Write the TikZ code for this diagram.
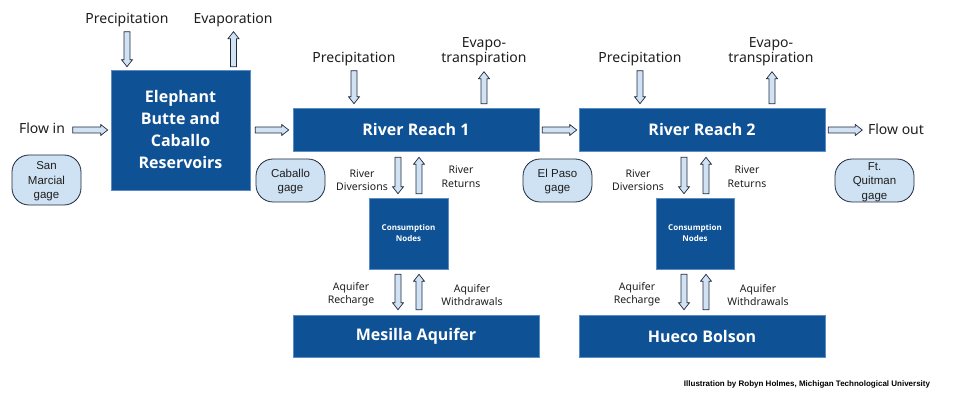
\documentclass[tikz,border=0pt]{standalone}
\usepackage{fontspec}
\setmainfont{Noto Sans}
\newfontfamily\boldf{Open Sans}
\newfontfamily\arialf{Liberation Sans}
\usetikzlibrary{calc}
\definecolor{boxblue}{RGB}{14,81,148}
\definecolor{boxedge}{RGB}{91,140,196}
\definecolor{arrfill}{RGB}{208,226,243}
\definecolor{arredge}{RGB}{30,40,60}
\definecolor{gagefill}{RGB}{207,226,243}
\definecolor{txt}{RGB}{30,30,30}
\tikzset{
 bigbox/.style={fill=boxblue, draw=boxedge, line width=0.6pt, text=white, font=\boldf\bfseries\fontsize{16}{22}\selectfont, align=center, inner sep=0pt},
 cons/.style={bigbox, font=\boldf\bfseries\fontsize{8}{11}\selectfont, minimum width=79pt, minimum height=71pt},
 gage/.style={fill=gagefill, draw=arredge, line width=0.8pt, rounded corners=17pt},
 gagetext/.style={font=\arialf\fontsize{11.5}{14.5}\selectfont, align=center, text=txt, inner sep=0pt},
 lbl/.style={font=\fontsize{14}{15}\selectfont, text=txt, inner sep=0pt, align=center},
 smlbl/.style={font=\fontsize{10.5}{13.5}\selectfont, text=txt, align=center, inner sep=0pt},
 barrowstyle/.style={fill=arrfill, draw=arredge, line width=0.7pt, line join=miter},
}
\newcommand\barrow[2]{%
 \coordinate (ba) at (#1); \coordinate (bb) at (#2);
 \coordinate (bn) at ($(bb)!7pt!(ba)$);
 \draw[barrowstyle] ($(ba)!3pt!90:(bb)$) -- ($(bn)!3pt!-90:(ba)$) -- ($(bn)!5.5pt!-90:(ba)$) -- (bb)
   -- ($(bn)!5.5pt!90:(ba)$) -- ($(bn)!3pt!90:(ba)$) -- ($(ba)!3pt!-90:(bb)$) -- cycle;}
\begin{document}
\begin{tikzpicture}[x=1pt,y=1pt]
\useasboundingbox (0,0) rectangle (956,410);
% main boxes
\node[bigbox, minimum width=139pt, minimum height=120pt] (EB) at (180.5,280) {Elephant\\Butte and\\Caballo\\Reservoirs};
\node[bigbox, minimum width=246pt, minimum height=43pt] (RR1) at (416,280) {River Reach 1};
\node[bigbox, minimum width=246pt, minimum height=43pt] (RR2) at (702,280) {River Reach 2};
\node[cons] (C1) at (408.5,176.5) {Consumption\\Nodes};
\node[cons, minimum width=78pt] (C2) at (695,176.5) {Consumption\\Nodes};
\node[bigbox, minimum width=246pt, minimum height=42pt] (MA) at (416,74) {Mesilla Aquifer};
\node[bigbox, minimum width=246pt, minimum height=42pt] (HB) at (702,74) {Hueco Bolson};
% gages
\node[gage, minimum width=69pt, minimum height=50pt] (SM) at (46.5,230) {};
\node[gagetext] (SMt) at ($(SM)+(0,-1.5)$) {San\\Marcial\\gage};
\node[gage, minimum width=69pt, minimum height=43pt] (CG) at (290.5,229.5) {};
\node[gagetext] (CGt) at ($(CG)+(0,-1)$) {Caballo\\gage};
\node[gage, minimum width=69pt, minimum height=43pt] (EP) at (557.5,229.5) {};
\node[gagetext] (EPt) at ($(EP)+(0,-1)$) {El Paso\\gage};
\node[gage, minimum width=79pt, minimum height=43pt] (FQ) at (874.5,229.5) {};
\node[gagetext] (FQt) at ($(FQ)+(0,-1.5)$) {Ft.\\Quitman\\gage};
% labels
\node[lbl] (P0) at (127,390) {Precipitation};
\node[lbl] (E0) at (233,390) {Evaporation};
\node[lbl] (FI) at (42,282) {Flow in};
\node[lbl] (FO) at (896,281) {Flow out};
\node[lbl] (P1) at (354,351) {Precipitation};
\node[lbl] (E1) at (484,358) {Evapo-\\transpiration};
\node[lbl] (P2) at (640,351) {Precipitation};
\node[lbl] (E2) at (771,358) {Evapo-\\transpiration};
\node[smlbl] (RD1) at (362,230) {River\\Diversions};
\node[smlbl] (RT1) at (461,233.5) {River\\Returns};
\node[smlbl] (AR1) at (351,116) {Aquifer\\Recharge};
\node[smlbl] (AW1) at (472,115) {Aquifer\\Withdrawals};
\node[smlbl] (RD2) at (638,230) {River\\Diversions};
\node[smlbl] (RT2) at (747,233.5) {River\\Returns};
\node[smlbl] (AR2) at (637,116) {Aquifer\\Recharge};
\node[smlbl] (AW2) at (758,115) {Aquifer\\Withdrawals};
\node[font=\arialf\bfseries\fontsize{8}{9}\selectfont, text=black, inner sep=0pt] (CR) at (807,26) {Illustration by Robyn Holmes, Michigan Technological University};
% arrows
\barrow{$(EB.north)+(-53.5,38)$}{$(EB.north)+(-53.5,3)$}
\barrow{$(EB.north)+(53,3)$}{$(EB.north)+(53,38)$}
\barrow{$(EB.west)+(-38,0)$}{$(EB.west)+(-3,0)$}
\barrow{$(EB.east)+(5,0)$}{$(RR1.west)+(-4,0)$}
\barrow{$(RR1.north)+(-62,37.5)$}{$(RR1.north)+(-62,4.5)$}
\barrow{$(RR1.north)+(68,4.5)$}{$(RR1.north)+(68,36.5)$}
\barrow{$(RR1.east)+(3,0)$}{$(RR2.west)+(-2,0)$}
\barrow{$(RR2.north)+(-62,37.5)$}{$(RR2.north)+(-62,4.5)$}
\barrow{$(RR2.north)+(70,4.5)$}{$(RR2.north)+(70,36.5)$}
\barrow{$(RR2.east)+(3,0)$}{$(RR2.east)+(37,0)$}
\barrow{$(C1.north|-RR1.south)+(-10.5,-5.5)$}{$(C1.north)+(-10.5,4)$}
\barrow{$(C1.north)+(10.5,4)$}{$(C1.north|-RR1.south)+(10.5,-5.5)$}
\barrow{$(C1.south)+(-10.5,-5)$}{$(C1.south|-MA.north)+(-10.5,5)$}
\barrow{$(C1.south|-MA.north)+(10.5,5)$}{$(C1.south)+(10.5,-5)$}
\barrow{$(C2.north|-RR2.south)+(-11,-5.5)$}{$(C2.north)+(-11,4)$}
\barrow{$(C2.north)+(11,4)$}{$(C2.north|-RR2.south)+(11,-5.5)$}
\barrow{$(C2.south)+(-11,-5)$}{$(C2.south|-HB.north)+(-11,5)$}
\barrow{$(C2.south|-HB.north)+(11,5)$}{$(C2.south)+(11,-5)$}
\end{tikzpicture}
\end{document}
